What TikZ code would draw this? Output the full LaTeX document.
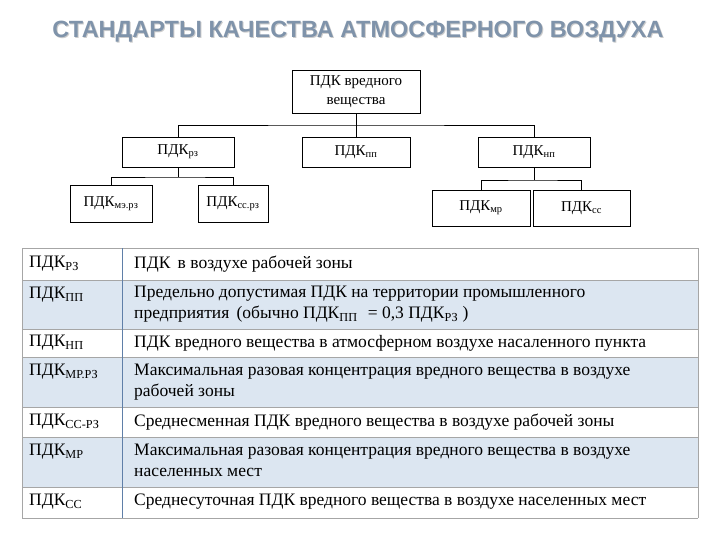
\documentclass[tikz,border=0pt]{standalone}
\usepackage{fontspec}
\setmainfont{Liberation Serif}
\newfontfamily\titlefont{Liberation Sans}
\begin{document}
\begin{tikzpicture}[x=1pt,y=-1pt,
  box/.style={draw,line width=0.7pt,inner sep=0pt,font=\fontsize{15}{19}\selectfont,align=center},
  conn/.style={line width=0.7pt},
  cell/.style={anchor=north west,inner sep=0pt,align=left,font=\fontsize{17.5}{21}\selectfont},
  rowline/.style={draw=gray!70,line width=0.8pt}]
\useasboundingbox (0,0) rectangle (720,540);
\definecolor{rowblue}{HTML}{DCE6F1}
\definecolor{titlec}{HTML}{7F93AA}
\definecolor{divc}{HTML}{5F7FA8}
\node[font=\titlefont\bfseries\fontsize{23.5}{26}\selectfont,text=gray!40] at (359,33) {СТАНДАРТЫ КАЧЕСТВА АТМОСФЕРНОГО ВОЗДУХА};
\node (title) [font=\titlefont\bfseries\fontsize{23.5}{26}\selectfont,text=titlec] at (358,32) {СТАНДАРТЫ КАЧЕСТВА АТМОСФЕРНОГО ВОЗДУХА};
% tree
\node (top) [box,minimum width=128pt,minimum height=43pt] at (356,91.5) {ПДК вредного\\вещества};
\node (rz) [box,minimum width=112pt,minimum height=30pt] at (178,152) {ПДК\textsubscript{рз}};
\node (pp) [box,minimum width=108pt,minimum height=30pt] at (356,152) {ПДК\textsubscript{пп}};
\node (np) [box,minimum width=112pt,minimum height=30pt] at (534,152) {ПДК\textsubscript{нп}};
\node (mrz) [box,minimum width=82pt,minimum height=37pt] at (111,203.5) {ПДК\textsubscript{мэ.рз}};
\node (ssrz) [box,minimum width=70pt,minimum height=37pt] at (233,203.5) {ПДК\textsubscript{сс.рз}};
\node (mr) [box,minimum width=98pt,minimum height=36pt] at (481,208) {ПДК\textsubscript{мр}};
\node (ss) [box,minimum width=97pt,minimum height=36pt] at (581.5,208) {ПДК\textsubscript{сс}};
\coordinate (j1) at (356,125);
\draw[conn] (top.south) -- (j1) (pp.north) -- (j1);
\draw[conn] (rz.north) |- (j1) -| (np.north);
\coordinate (j2) at (178,177);
\draw[conn] (rz.south) -- (j2);
\draw[conn] (mrz.north) |- (j2) -| (ssrz.north);
\coordinate (j3) at (534,180);
\draw[conn] (np.south) -- (j3);
\draw[conn] (mr.north) |- (j3) -| (ss.north);
% table
\fill[rowblue] (22,280) rectangle (698,329);
\fill[rowblue] (22,357) rectangle (698,407);
\fill[rowblue] (22,437) rectangle (698,487);
\foreach \y in {248,280,329,357,407,437,487,518} \draw[rowline] (22,\y) -- (698,\y);
\draw[rowline] (22,248) -- (22,518) (698,248) -- (698,518);
\draw[draw=divc,line width=0.8pt] (122,248) -- (122,518);
\node (a1) [cell] at (29,256) {ПДК\textsubscript{РЗ}};
\node (b1) [cell] at (134,256) {ПДК\, в воздухе рабочей зоны};
\node (a2) [cell] at (29,287) {ПДК\textsubscript{ПП}};
\node (b2) [cell] at (134,286) {Предельно допустимая ПДК на территории промышленного\\предприятия\, (обычно ПДК\textsubscript{ПП}\,\, = 0,3 ПДК\textsubscript{РЗ} )};
\node (a3) [cell] at (29,335) {ПДК\textsubscript{НП}};
\node (b3) [cell] at (134,335) {ПДК вредного вещества в атмосферном воздухе насаленного пункта};
\node (a4) [cell] at (29,364) {ПДК\textsubscript{МР.РЗ}};
\node (b4) [cell] at (134,364) {Максимальная разовая концентрация вредного вещества в воздухе\\рабочей зоны};
\node (a5) [cell] at (29,414) {ПДК\textsubscript{СС-РЗ}};
\node (b5) [cell] at (134,414) {Среднесменная ПДК вредного вещества в воздухе рабочей зоны};
\node (a6) [cell] at (29,444) {ПДК\textsubscript{МР}};
\node (b6) [cell] at (134,444) {Максимальная разовая концентрация вредного вещества в воздухе\\населенных мест};
\node (a7) [cell] at (29,494) {ПДК\textsubscript{СС}};
\node (b7) [cell] at (134,494) {Среднесуточная ПДК вредного вещества в воздухе населенных мест};
\end{tikzpicture}
\end{document}
